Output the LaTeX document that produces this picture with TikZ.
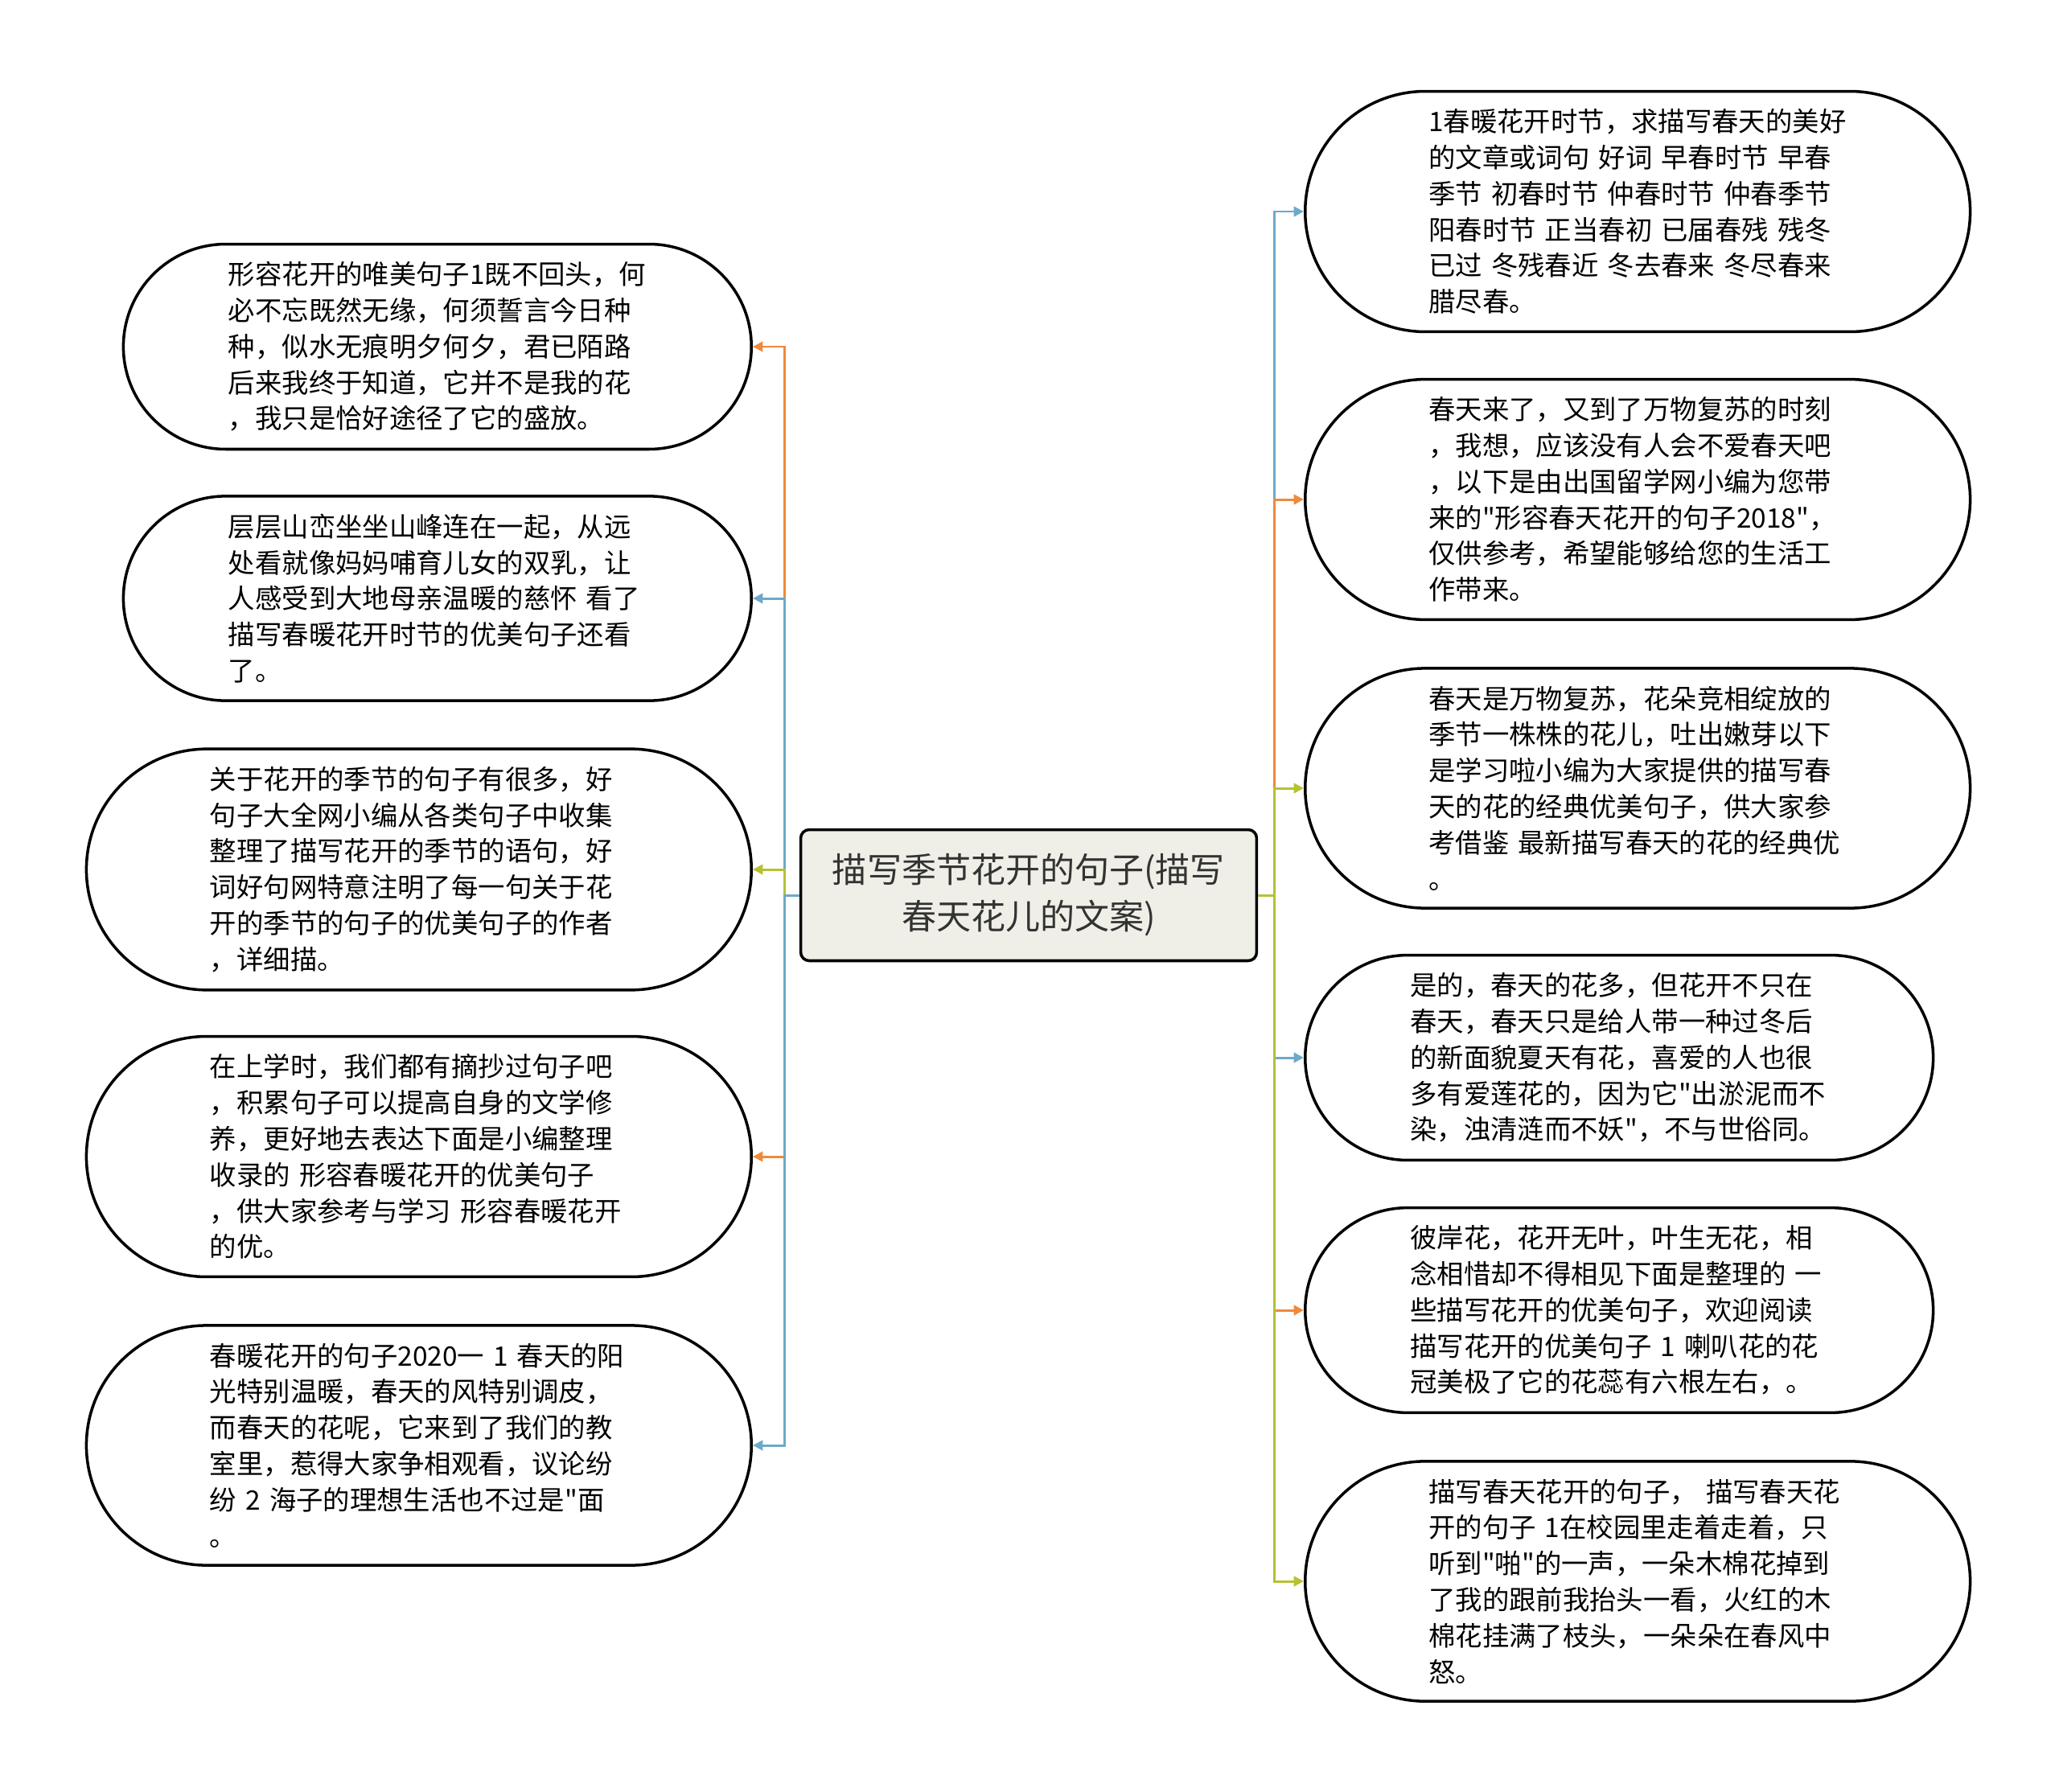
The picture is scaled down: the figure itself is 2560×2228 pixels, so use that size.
\documentclass[tikz,border=0pt]{standalone}
\usepackage{fontspec}
\newfontfamily\cjk{Noto Sans CJK SC}
\usetikzlibrary{shapes.misc,arrows.meta}

\definecolor{topicfill}{HTML}{EFEFE8}
\definecolor{linkorange}{HTML}{EE8A3C}
\definecolor{linkblue}{HTML}{6EA9C8}
\definecolor{linkgreen}{HTML}{B4C232}

\tikzset{
  topic/.style={draw=black, line width=2pt, fill=topicfill, rounded corners=6pt,
    minimum width=11.34cm, minimum height=3.26cm, align=center, text=black!80,
    font=\cjk\fontsize{24.5}{33}\selectfont},
  leaf/.style={rounded rectangle, draw=black, line width=2pt, fill=white,
    text width=10.4cm, inner xsep=0pt, inner ysep=12.5pt, align=left,
    font=\cjk\fontsize{19}{25.5}\selectfont},
  leafshort/.style={leaf, minimum width=15.62cm},
  leaftall/.style={leaf, minimum width=16.54cm},
  link/.style={line width=1.7pt, -{Triangle[length=7pt,width=7pt]}},
}

\begin{document}
\begin{tikzpicture}[x=0.02cm,y=-0.02cm]

\def\leftX{936}
\def\rightX{1621}
\def\leftTrunkX{975}
\def\rightTrunkX{1584}
\def\topicY{1113}

\useasboundingbox (0,0) rectangle (2560,2228);

\node[topic] (topic) at (1279,\topicY) {描写季节花开的句子(描写\\春天花儿的文案)};

% left side
\node[leafshort, anchor=east] (l1) at (\leftX,431) {形容花开的唯美句子1既不回头，何\\必不忘既然无缘，何须誓言今日种\\种，似水无痕明夕何夕，君已陌路\\后来我终于知道，它并不是我的花\\，我只是恰好途径了它的盛放。};
\node[leafshort, anchor=east] (l2) at (\leftX,744) {层层山峦坐坐山峰连在一起，从远\\处看就像妈妈哺育儿女的双乳，让\\人感受到大地母亲温暖的慈怀 看了\\描写春暖花开时节的优美句子还看\\了。};
\node[leaftall, anchor=east] (l3) at (\leftX,1081) {关于花开的季节的句子有很多，好\\句子大全网小编从各类句子中收集\\整理了描写花开的季节的语句，好\\词好句网特意注明了每一句关于花\\开的季节的句子的优美句子的作者\\，详细描。};
\node[leaftall, anchor=east] (l4) at (\leftX,1438) {在上学时，我们都有摘抄过句子吧\\，积累句子可以提高自身的文学修\\养，更好地去表达下面是小编整理\\收录的 形容春暖花开的优美句子\\，供大家参考与学习 形容春暖花开\\的优。};
\node[leaftall, anchor=east] (l5) at (\leftX,1797) {春暖花开的句子2020一 1 春天的阳\\光特别温暖，春天的风特别调皮，\\而春天的花呢，它来到了我们的教\\室里，惹得大家争相观看，议论纷\\纷 2 海子的理想生活也不过是"面\\。};

% right side
\node[leaftall, anchor=west] (r1) at (\rightX,263) {1春暖花开时节，求描写春天的美好\\的文章或词句 好词 早春时节 早春\\季节 初春时节 仲春时节 仲春季节\\阳春时节 正当春初 已届春残 残冬\\已过 冬残春近 冬去春来 冬尽春来\\腊尽春。};
\node[leaftall, anchor=west] (r2) at (\rightX,621) {春天来了，又到了万物复苏的时刻\\，我想，应该没有人会不爱春天吧\\，以下是由出国留学网小编为您带\\来的"形容春天花开的句子2018"，\\仅供参考，希望能够给您的生活工\\作带来。};
\node[leaftall, anchor=west] (r3) at (\rightX,980) {春天是万物复苏，花朵竞相绽放的\\季节一株株的花儿，吐出嫩芽以下\\是学习啦小编为大家提供的描写春\\天的花的经典优美句子，供大家参\\考借鉴 最新描写春天的花的经典优\\。};
\node[leafshort, anchor=west] (r4) at (\rightX,1315) {是的，春天的花多，但花开不只在\\春天，春天只是给人带一种过冬后\\的新面貌夏天有花，喜爱的人也很\\多有爱莲花的，因为它"出淤泥而不\\染，浊清涟而不妖"，不与世俗同。};
\node[leafshort, anchor=west] (r5) at (\rightX,1629) {彼岸花，花开无叶，叶生无花，相\\念相惜却不得相见下面是整理的 一\\些描写花开的优美句子，欢迎阅读\\描写花开的优美句子 1 喇叭花的花\\冠美极了它的花蕊有六根左右，。};
\node[leaftall, anchor=west] (r6) at (\rightX,1966) {描写春天花开的句子， 描写春天花\\开的句子 1在校园里走着走着，只\\听到"啪"的一声，一朵木棉花掉到\\了我的跟前我抬头一看，火红的木\\棉花挂满了枝头，一朵朵在春风中\\怒。};

\coordinate (ljoint) at (\leftTrunkX,\topicY);
\coordinate (rjoint) at (\rightTrunkX,\topicY);

\draw[link, linkorange] (topic.west) -- (ljoint) |- (l1.east);
\draw[link, linkblue] (topic.west) -- (ljoint) |- (l2.east);
\draw[link, linkgreen] (topic.west) -- (ljoint) |- (l3.east);
\draw[link, linkorange] (topic.west) -- (ljoint) |- (l4.east);
\draw[link, linkblue] (topic.west) -- (ljoint) |- (l5.east);

\draw[link, linkblue] (topic.east) -- (rjoint) |- (r1.west);
\draw[link, linkorange] (topic.east) -- (rjoint) |- (r2.west);
\draw[link, linkgreen] (topic.east) -- (rjoint) |- (r3.west);
\draw[link, linkblue] (topic.east) -- (rjoint) |- (r4.west);
\draw[link, linkorange] (topic.east) -- (rjoint) |- (r5.west);
\draw[link, linkgreen] (topic.east) -- (rjoint) |- (r6.west);

\end{tikzpicture}
\end{document}
